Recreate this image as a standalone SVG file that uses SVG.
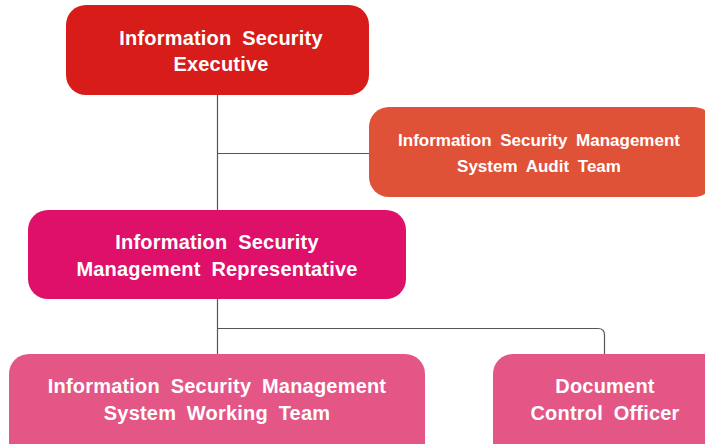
<svg xmlns="http://www.w3.org/2000/svg" width="705" height="444" viewBox="0 0 705 444">
<style>
.t{font-family:"Liberation Sans",Arial,sans-serif;font-weight:bold;fill:#fff;text-anchor:middle;word-spacing:5px}
.c{fill:none;stroke:#555;stroke-width:1.2}
</style>
<rect width="705" height="444" fill="#fff"/>
<g id="connectors">
<path class="c" d="M217.5,95 V210 M217.5,153.5 H370"/>
<path class="c" d="M217.5,299 V355 M217.5,328.5 H598 Q604.5,328.5 604.5,335 V355"/>
</g>
<g id="executive">
<rect x="66" y="5" width="303" height="90" rx="20" fill="#D71C1A"/>
<text class="t" font-size="20" x="221" y="45" letter-spacing="0.2">Information Security</text>
<text class="t" font-size="20" x="221" y="71" letter-spacing="0.2">Executive</text>
</g>
<g id="audit">
<rect x="369" y="107" width="345" height="90" rx="20" fill="#E05237"/>
<text class="t" font-size="17" x="539" y="146" style="word-spacing:4px">Information Security Management</text>
<text class="t" font-size="17" x="539" y="172" style="word-spacing:4px">System Audit Team</text>
</g>
<g id="representative">
<rect x="28" y="210" width="378" height="89" rx="20" fill="#DE106A"/>
<text class="t" font-size="20" x="217" y="249" letter-spacing="0.2">Information Security</text>
<text class="t" font-size="20" x="217" y="276" letter-spacing="0.2">Management Representative</text>
</g>
<g id="working">
<rect x="9" y="354" width="416" height="110" rx="20" fill="#E35686"/>
<text class="t" font-size="20" x="217" y="393" letter-spacing="0.2">Information Security Management</text>
<text class="t" font-size="20" x="217" y="420" letter-spacing="0.2">System Working Team</text>
</g>
<g id="document">
<rect x="493" y="354" width="240" height="110" rx="20" fill="#E35686"/>
<text class="t" font-size="20" x="605" y="393" letter-spacing="0.2">Document</text>
<text class="t" font-size="20" x="605" y="420" letter-spacing="0.2">Control Officer</text>
</g>
</svg>
